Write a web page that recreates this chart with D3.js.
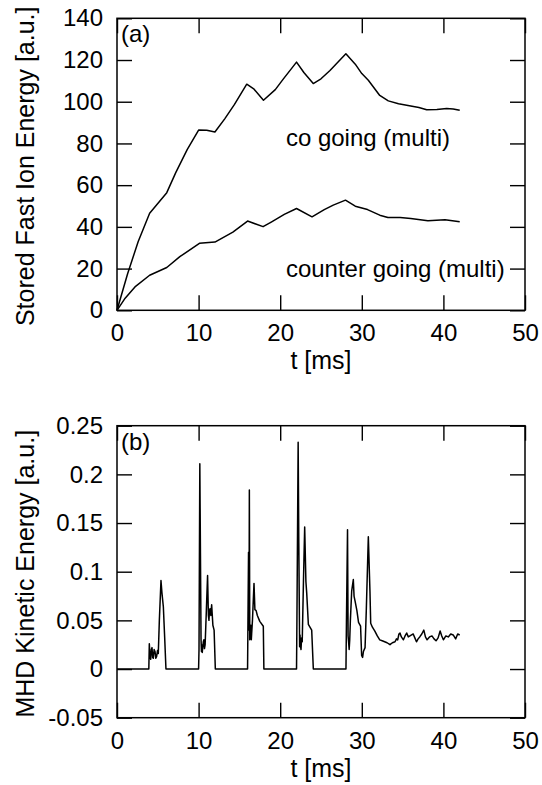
<!DOCTYPE html>
<html>
<head>
<meta charset="utf-8">
<script src="https://cdn.jsdelivr.net/npm/d3@7"></script>
<style>
	body{margin:0;background:#fff;}
	svg{display:block;font-family:"Liberation Sans",Arial,sans-serif;}
</style>
</head>
<body>
<svg id="chart" width="542" height="785"></svg>
<script>
// stored fast ion energy (a) and MHD kinetic energy (b) vs time

var tTicks = [0,10,20,30,40,50];
var energyTicks = [0,20,40,60,80,100,120,140];
var mhdTicks = [-0.05,0,0.05,0.1,0.15,0.2,0.25];

// (a) co going, [t ms, energy a.u.]
var coGoing = [[0,0],[1.3,17.5],[2.6,33],[4,46.5],[6.1,56.4],[7.2,66],[8.6,77],[10,86.4],[11,86.3],[12,85.5],
	[13.2,91.8],[14.4,98.7],[15.9,108.4],[16.8,106],[17.95,100.7],[19.4,105.8],[20.3,110.5],[22,119],
	[22.9,114],[24.05,108.7],[25,111],[26.1,115],[28.05,123],[29.2,118],[30,113.5],[30.8,110.3],[32.2,103],
	[33.25,100.4],[34.5,99],[35.5,98.3],[37,97.2],[37.95,96.2],[39.2,96.3],[40.4,96.7],[41.2,96.5],[42,95.9]];

// (a) counter going
var counterGoing = [[0,0],[1,5.8],[2.2,11.2],[4,16.8],[6.1,20.5],[7.7,25.7],[10.1,32.1],[12,32.7],[14.2,37.5],
	[16,42.8],[17.9,40.1],[18.9,42.3],[20.5,46],[22,48.8],[23.9,44.8],[25.4,48.3],[26.5,50.4],[28,52.8],
	[29.2,49.9],[30.7,48.3],[32.2,45.6],[33.2,44.5],[34.7,44.5],[36,44],[38.1,42.9],[40.2,43.4],[42,42.4]];

// (b) MHD kinetic energy
var mhdEnergy = [[0,0],[3.9,0],[3.96,0.026],[4.05,0.012],[4.13,0.01],[4.21,0.02],[4.29,0.022],[4.37,0.012],[4.45,0.011],
	[4.55,0.02],[4.66,0.018],[4.76,0.011],[4.86,0.013],[4.96,0.019],[5.06,0.016],[5.19,0.05],[5.39,0.091],[5.51,0.078],
	[5.68,0.064],[5.84,0.033],[6.0,0],
	[10.0,0],[10.05,0.02],[10.15,0.211],[10.3,0.03],[10.35,0.018],[10.4,0.025],[10.45,0.017],[10.5,0.022],[10.58,0.028],
	[10.65,0.03],[10.72,0.021],[10.8,0.025],[10.95,0.06],[11.1,0.096],[11.2,0.055],[11.27,0.05],[11.33,0.06],[11.4,0.062],
	[11.5,0.055],[11.6,0.066],[11.75,0.045],[11.9,0.04],[12.05,0],
	[16.0,0],[16.05,0.05],[16.12,0.12],[16.18,0.04],[16.22,0.184],[16.27,0.03],[16.3,0.045],[16.36,0.033],[16.4,0.045],
	[16.46,0.03],[16.5,0.036],[16.6,0.05],[16.79,0.088],[16.9,0.061],[17.05,0.06],[17.2,0.055],[17.5,0.049],
	[17.93,0.044],[18.0,0],
	[22.0,0],[22.05,0.05],[22.2,0.233],[22.28,0.129],[22.38,0.023],[22.43,0.035],[22.47,0.025],[22.55,0.02],[22.62,0.032],
	[22.7,0.028],[22.85,0.09],[23.0,0.146],[23.15,0.09],[23.25,0.078],[23.45,0.046],[23.86,0.04],[24.06,0],
	[28.06,0],[28.12,0.05],[28.25,0.143],[28.32,0.034],[28.38,0.028],[28.45,0.02],[28.52,0.03],[28.6,0.05],[28.76,0.08],
	[28.96,0.092],[29.05,0.075],[29.17,0.07],[29.4,0.06],[29.6,0.048],[29.85,0.044],[29.98,0.014],[30.1,0.012],
	[30.2,0.018],[30.4,0.022],[30.55,0.06],[30.8,0.136],[31.0,0.08],[31.09,0.047],[31.3,0.043],[31.6,0.039],[31.9,0.034],
	[32.2,0.03],[32.5,0.029],[32.8,0.028],[33.1,0.027],[33.45,0.025],[33.75,0.027],[34.07,0.028],[34.25,0.031],
	[34.4,0.03],[34.55,0.036],[34.68,0.037],[34.85,0.033],[35.1,0.03],[35.3,0.034],[35.5,0.037],[35.7,0.033],
	[35.9,0.034],[36.1,0.035],[36.3,0.036],[36.5,0.032],[36.7,0.028],[36.9,0.031],[37.1,0.033],[37.35,0.036],
	[37.6,0.04],[37.8,0.033],[38.0,0.03],[38.3,0.033],[38.6,0.034],[38.85,0.031],[39.1,0.029],[39.35,0.032],
	[39.6,0.039],[39.8,0.034],[40.0,0.03],[40.3,0.034],[40.6,0.033],[40.9,0.036],[41.2,0.035],[41.35,0.033],
	[41.5,0.031],[41.75,0.036],[42.0,0.035]];

var left=117, right=525, panelH=292;
var tickLen=15, tickFont=24, labelFont=24, titleFont=25;

var svg = d3.select("#chart");

function fmt(d){ return String(+d.toFixed(2)); }

function drawPanel(p){
	var x = d3.scaleLinear().domain([0,50]).range([left,right]);
	var y = d3.scaleLinear().domain(p.yDomain).range([p.top+panelH, p.top]);
	var g = svg.append("g");

	// ticks on all four sides, pointing inward
	g.append("g").attr("transform","translate(0,"+(p.top+panelH)+")")
		.call(d3.axisBottom(x).tickValues(tTicks).tickSizeInner(-tickLen).tickSizeOuter(0).tickPadding(14).tickFormat(fmt))
		.call(styleAxis);
	g.append("g").attr("transform","translate(0,"+p.top+")")
		.call(d3.axisTop(x).tickValues(tTicks).tickSizeInner(-tickLen).tickSizeOuter(0).tickFormat(""))
		.call(styleAxis);
	g.append("g").attr("transform","translate("+left+",0)")
		.call(d3.axisLeft(y).tickValues(p.yTicks).tickSizeInner(-tickLen).tickSizeOuter(0).tickPadding(14).tickFormat(fmt))
		.call(styleAxis);
	g.append("g").attr("transform","translate("+right+",0)")
		.call(d3.axisRight(y).tickValues(p.yTicks).tickSizeInner(-tickLen).tickSizeOuter(0).tickFormat(""))
		.call(styleAxis);

	g.append("rect").attr("x",left).attr("y",p.top).attr("width",right-left).attr("height",panelH)
		.attr("fill","none").attr("stroke","#000").attr("stroke-width",1.5);

	var line = d3.line().x(function(d){ return x(d[0]); }).y(function(d){ return y(d[1]); });
	p.series.forEach(function(s){
		g.append("path").datum(s).attr("d",line)
			.attr("fill","none").attr("stroke","#000").attr("stroke-width",1.5).attr("stroke-linejoin","round");
	});

	p.notes.forEach(function(n){
		g.append("text").attr("x",x(n[0])).attr("y",y(n[1])).attr("font-size",labelFont).text(n[2]);
	});
	g.append("text").attr("x",left+4).attr("y",p.top+24).attr("font-size",labelFont).text(p.tag);

	g.append("text").attr("x",(left+right)/2).attr("y",p.top+panelH+59)
		.attr("text-anchor","middle").attr("font-size",titleFont).text("t [ms]");
	g.append("text").attr("transform","translate(34,"+(p.top+panelH/2+2)+")rotate(-90)")
		.attr("text-anchor","middle").attr("font-size",titleFont).text(p.yTitle);
}

function styleAxis(a){
	a.select(".domain").remove();
	a.selectAll(".tick line").attr("stroke","#000").attr("stroke-width",1.4);
	a.selectAll(".tick text").attr("fill","#000").attr("font-size",tickFont).attr("font-family","Liberation Sans, Arial, sans-serif");
}

drawPanel({top:18.3, yDomain:[0,140], yTicks:energyTicks, series:[coGoing,counterGoing],
	notes:[[20.7,78.8,"co going (multi)"],[20.7,16.1,"counter going (multi)"]],
	tag:"(a)", yTitle:"Stored Fast Ion Energy [a.u.]"});
drawPanel({top:425.7, yDomain:[-0.05,0.25], yTicks:mhdTicks, series:[mhdEnergy],
	notes:[], tag:"(b)", yTitle:"MHD Kinetic Energy [a.u.]"});
</script>
</body>
</html>
